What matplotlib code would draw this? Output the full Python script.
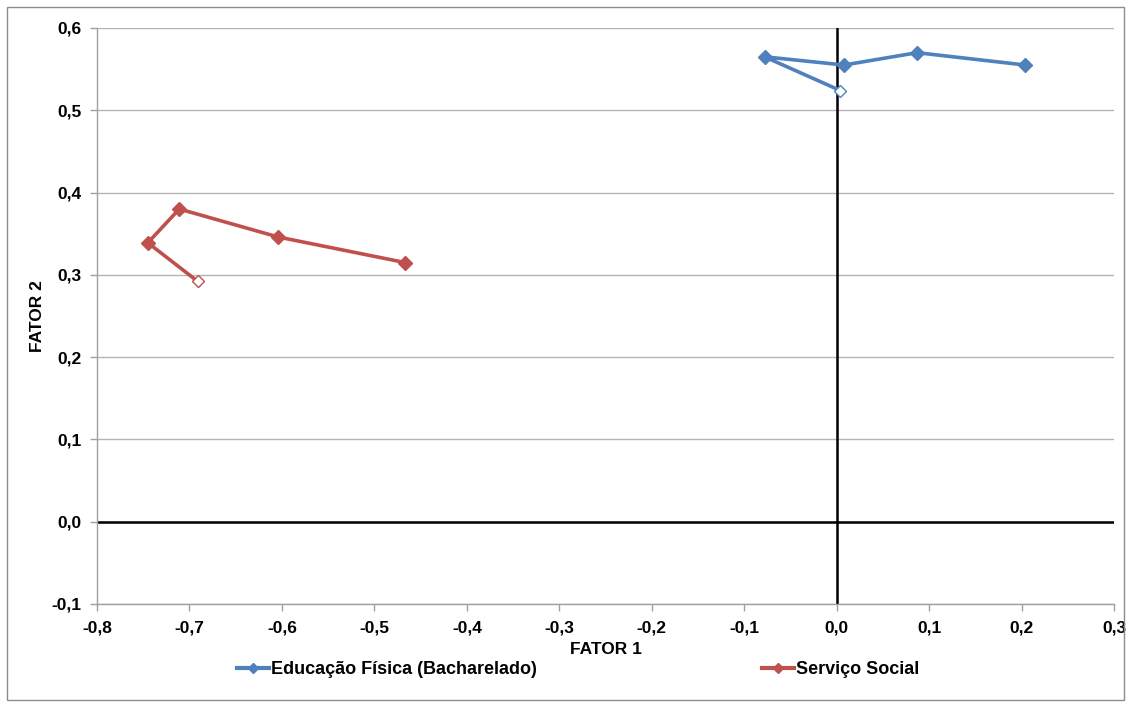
import matplotlib
matplotlib.use("Agg")
import matplotlib.pyplot as plt
from matplotlib.patches import Rectangle
from matplotlib.lines import Line2D
from matplotlib.ticker import FuncFormatter

plt.rcParams['font.family'] = ['Liberation Sans', 'DejaVu Sans']

series_names = ["Educação Física (Bacharelado)", "Serviço Social"]
edu_x = [0.004, -0.078, 0.008, 0.087, 0.204]
edu_y = [0.524, 0.565, 0.555, 0.570, 0.555]
ss_x = [-0.691, -0.745, -0.711, -0.604, -0.467]
ss_y = [0.292, 0.339, 0.380, 0.346, 0.315]
colors = ["#4F81BD", "#C0504D"]

x_ticks = [-0.8, -0.7, -0.6, -0.5, -0.4, -0.3, -0.2, -0.1, 0.0, 0.1, 0.2, 0.3]
y_ticks = [-0.1, 0.0, 0.1, 0.2, 0.3, 0.4, 0.5, 0.6]

W, H = 1131, 708
fig = plt.figure(figsize=(W/100, H/100), dpi=100)
ax = fig.add_axes([97/W, 1-604/H, (1114-97)/W, (604-28)/H])

ax.set_xlim(-0.8, 0.3)
ax.set_ylim(-0.1, 0.6)
ax.set_xticks(x_ticks)
ax.set_yticks(y_ticks)
fmt = FuncFormatter(lambda v, p: f"{v:.1f}".replace(".", ",").replace("-0,0", "0,0"))
ax.xaxis.set_major_formatter(fmt)
ax.yaxis.set_major_formatter(fmt)
for lab in ax.get_xticklabels() + ax.get_yticklabels():
    lab.set_fontweight('bold')
ax.tick_params(axis='both', labelsize=12.5, length=5, color='#A0A0A0', width=1)
ax.tick_params(axis='y', pad=6)
ax.tick_params(axis='x', pad=7)

ax.grid(axis='y', color='#B4B4B4', linewidth=1)
ax.set_axisbelow(True)
for s in ['top', 'right']:
    ax.spines[s].set_visible(False)
for s in ['left', 'bottom']:
    ax.spines[s].set_color('#A0A0A0')
    ax.spines[s].set_linewidth(1)

ax.axhline(0, color='black', linewidth=1.8, zorder=2)
ax.axvline(0, color='black', linewidth=1.8, zorder=2)

for xs, ys, c in [(edu_x, edu_y, colors[0]), (ss_x, ss_y, colors[1])]:
    ax.plot(xs, ys, color=c, linewidth=2.6, zorder=3)
    ax.plot(xs[1:], ys[1:], linestyle='none', marker='D', markersize=7.5,
            color=c, zorder=4)
    ax.plot(xs[:1], ys[:1], linestyle='none', marker='D', markersize=6.5,
            markerfacecolor='white', markeredgecolor=c, markeredgewidth=1, zorder=4)

ax.set_xlabel("FATOR 1", fontsize=12.5, fontweight='bold', va='center')
ax.xaxis.set_label_coords(0.5, (604-650)/(604-28))
ax.set_ylabel("FATOR 2", fontsize=12.5, fontweight='bold', va='center')
ax.yaxis.set_label_coords((38-97)/(1114-97), 0.5)

for name, c, x0 in [(series_names[0], colors[0], 237), (series_names[1], colors[1], 762)]:
    h = Line2D([0], [0], color=c, linewidth=3, marker='D', markersize=5)
    lg = fig.legend([h], [name], loc='center left', bbox_to_anchor=(x0/W, 1-670/H),
                    frameon=False, borderpad=0, borderaxespad=0, handlelength=1.75,
                    handletextpad=0.15, prop={'weight': 'bold', 'size': 13})

fig.patches.append(Rectangle((7/W, 8/H), 1117/W, 693/H, transform=fig.transFigure,
                             fill=False, edgecolor='#8C8C8C', linewidth=1))

fig.savefig("out.png", dpi=100)
